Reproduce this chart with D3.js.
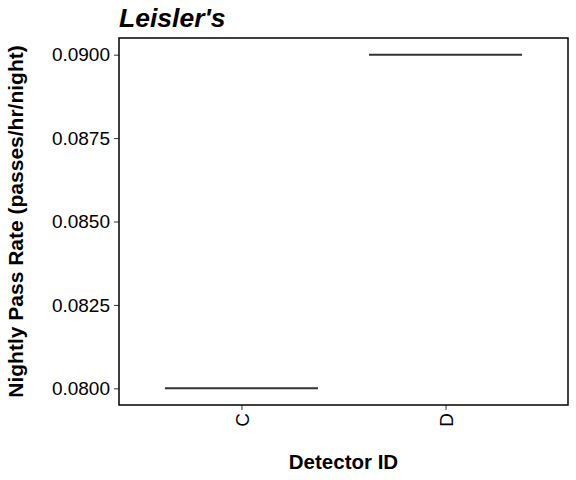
<!DOCTYPE html>
<html>
<head>
<meta charset="utf-8">
<script src="https://cdn.jsdelivr.net/npm/d3@7"></script>
<style>
  body { margin: 0; background: #fff; }
  text { font-family: "Liberation Sans", Arial, sans-serif; }
</style>
</head>
<body>
<svg id="chart" width="576" height="480"></svg>
<script>
// data
const detectors = ["C", "D"];
const passRates = [0.0800, 0.0900];
const yTicks = [0.0800, 0.0825, 0.0850, 0.0875, 0.0900];

const width = 576, height = 480;
const margin = { top: 38, right: 8, bottom: 75, left: 119 };

const svg = d3.select("#chart");

const x = d3.scalePoint()
  .domain(detectors)
  .range([margin.left, width - margin.right])
  .padding(0.6);

const yMin = d3.min(passRates), yMax = d3.max(passRates);
const pad = (yMax - yMin) * 0.05;
const y = d3.scaleLinear()
  .domain([yMin - pad, yMax + pad])
  .range([height - margin.bottom, margin.top]);

const boxW = x.step() * 0.75;

// y axis
const yAxis = svg.append("g")
  .attr("transform", `translate(${margin.left},0)`)
  .call(d3.axisLeft(y).tickValues(yTicks).tickFormat(d3.format(".4f")).tickSize(5).tickPadding(4));
yAxis.select(".domain").remove();
yAxis.selectAll("text").attr("font-size", 19).attr("fill", "#000");
yAxis.selectAll("line").attr("stroke", "#333");

// x axis
const xAxis = svg.append("g")
  .attr("transform", `translate(0,${height - margin.bottom})`)
  .call(d3.axisBottom(x).tickSize(5));
xAxis.select(".domain").remove();
xAxis.selectAll("line").attr("stroke", "#333");
xAxis.selectAll("text")
  .attr("font-size", 19)
  .attr("fill", "#000")
  .attr("transform", "rotate(-90)")
  .attr("text-anchor", "end")
  .attr("x", -8)
  .attr("y", 0)
  .attr("dy", "0.35em");

// collapsed boxes (single value per detector)
svg.append("g")
  .selectAll("line")
  .data(detectors)
  .join("line")
  .attr("x1", d => x(d) - boxW / 2)
  .attr("x2", d => x(d) + boxW / 2)
  .attr("y1", (d, i) => y(passRates[i]))
  .attr("y2", (d, i) => y(passRates[i]))
  .attr("stroke", "#333")
  .attr("stroke-width", 2);

// panel border
svg.append("rect")
  .attr("x", margin.left)
  .attr("y", margin.top)
  .attr("width", width - margin.left - margin.right)
  .attr("height", height - margin.top - margin.bottom)
  .attr("fill", "none")
  .attr("stroke", "#000")
  .attr("stroke-width", 1.5);

// title
svg.append("text")
  .attr("x", margin.left)
  .attr("y", 27)
  .attr("font-size", 26.5)
  .attr("font-weight", "bold")
  .attr("font-style", "italic")
  .text("Leisler's");

// axis titles
svg.append("text")
  .attr("x", (margin.left + width - margin.right) / 2)
  .attr("y", 469)
  .attr("text-anchor", "middle")
  .attr("font-size", 20.5)
  .attr("font-weight", "bold")
  .text("Detector ID");

svg.append("text")
  .attr("transform", `translate(23,${(margin.top + height - margin.bottom) / 2}) rotate(-90)`)
  .attr("text-anchor", "middle")
  .attr("font-size", 21)
  .attr("font-weight", "bold")
  .text("Nightly Pass Rate (passes/hr/night)");
</script>
</body>
</html>
